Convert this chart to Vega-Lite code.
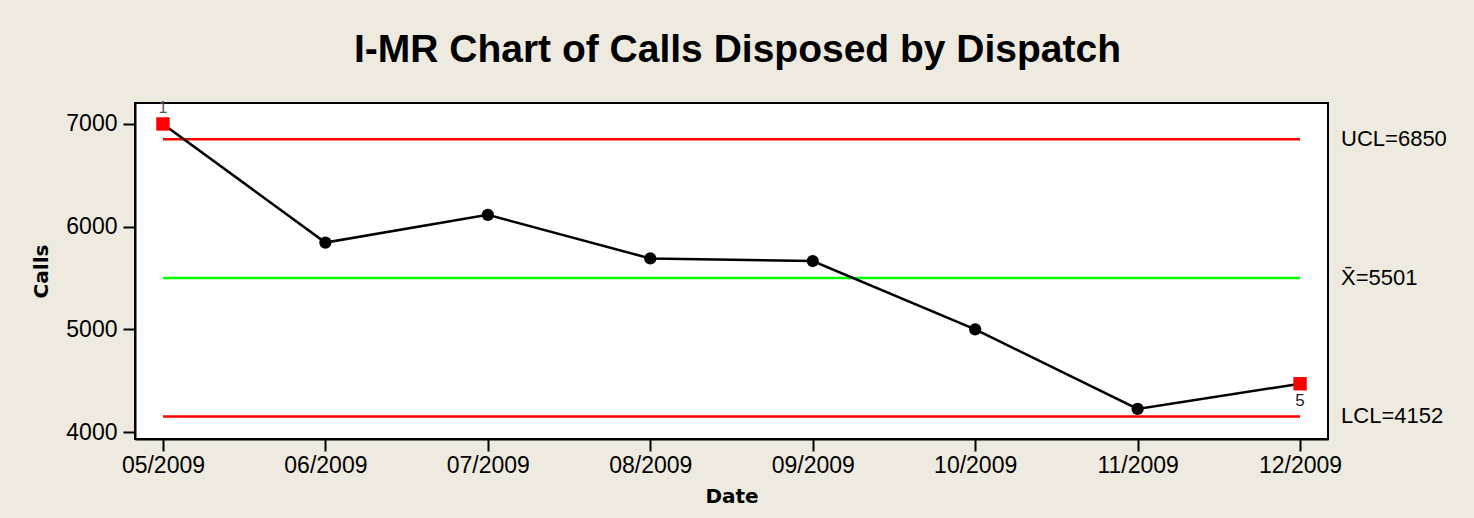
{
  "$schema": "https://vega.github.io/schema/vega-lite/v6.json",
  "width": 1193,
  "height": 336,
  "autosize": {"type": "none"},
  "padding": {"left": 135, "top": 103, "right": 146, "bottom": 79},
  "background": "#EEEAE0",
  "config": {
    "view": {"stroke": "#000000", "strokeWidth": 2, "fill": "#FFFFFF"},
    "font": "Liberation Sans"
  },
  "title": {
    "text": "I-MR Chart of Calls Disposed by Dispatch",
    "font": "Liberation Sans",
    "fontSize": 39,
    "fontWeight": "bold",
    "color": "#000000",
    "anchor": "middle",
    "dx": 6,
    "offset": 30
  },
  "datasets": {
    "obs": [
      {"month": "05/2009", "calls": 7000, "status": "out", "flag": "1"},
      {"month": "06/2009", "calls": 5845, "status": "in", "flag": ""},
      {"month": "07/2009", "calls": 6115, "status": "in", "flag": ""},
      {"month": "08/2009", "calls": 5690, "status": "in", "flag": ""},
      {"month": "09/2009", "calls": 5665, "status": "in", "flag": ""},
      {"month": "10/2009", "calls": 5000, "status": "in", "flag": ""},
      {"month": "11/2009", "calls": 4225, "status": "in", "flag": ""},
      {"month": "12/2009", "calls": 4470, "status": "out", "flag": "5"}
    ],
    "limits": [
      {"name": "UCL", "value": 6850, "start": "05/2009", "end": "12/2009", "label": "UCL=6850"},
      {"name": "Mean", "value": 5501, "start": "05/2009", "end": "12/2009", "label": "X̄=5501"},
      {"name": "LCL", "value": 4152, "start": "05/2009", "end": "12/2009", "label": "LCL=4152"}
    ]
  },
  "layer": [
    {
      "data": {"name": "limits"},
      "mark": {"type": "rule", "strokeWidth": 2.5},
      "encoding": {
        "x": {"field": "start", "type": "ordinal"},
        "x2": {"field": "end"},
        "y": {"field": "value", "type": "quantitative"},
        "color": {"field": "name", "type": "nominal", "scale": {"domain": ["UCL", "Mean", "LCL"], "range": ["#FF0000", "#00FF00", "#FF0000"]}, "legend": null}
      }
    },
    {
      "data": {"name": "limits"},
      "mark": {"type": "text", "align": "left", "baseline": "middle", "dx": 41, "fontSize": 22, "font": "Liberation Sans", "color": "#000000"},
      "encoding": {
        "x": {"field": "end", "type": "ordinal"},
        "y": {"field": "value", "type": "quantitative"},
        "text": {"field": "label"}
      }
    },
    {
      "data": {"name": "obs"},
      "mark": {"type": "line", "color": "#000000", "strokeWidth": 2.5},
      "encoding": {
        "x": {"field": "month", "type": "ordinal"},
        "y": {"field": "calls", "type": "quantitative"}
      }
    },
    {
      "data": {"name": "obs"},
      "mark": {"type": "point", "filled": true, "opacity": 1},
      "encoding": {
        "x": {"field": "month", "type": "ordinal"},
        "y": {"field": "calls", "type": "quantitative"},
        "shape": {"field": "status", "type": "nominal", "scale": {"domain": ["in", "out"], "range": ["circle", "square"]}, "legend": null},
        "fill": {"field": "status", "type": "nominal", "scale": {"domain": ["in", "out"], "range": ["#000000", "#FF0000"]}, "legend": null},
        "size": {"field": "status", "type": "nominal", "scale": {"domain": ["in", "out"], "range": [150, 180]}, "legend": null}
      }
    },
    {
      "data": {"name": "obs"},
      "transform": [{"filter": "datum.flag == '1'"}],
      "mark": {"type": "text", "align": "center", "baseline": "bottom", "dy": -8, "fontSize": 16, "color": "#555555"},
      "encoding": {
        "x": {"field": "month", "type": "ordinal"},
        "y": {"field": "calls", "type": "quantitative"},
        "text": {"field": "flag"}
      }
    },
    {
      "data": {"name": "obs"},
      "transform": [{"filter": "datum.flag == '5'"}],
      "mark": {"type": "text", "align": "center", "baseline": "top", "dy": 9, "fontSize": 17, "color": "#222222"},
      "encoding": {
        "x": {"field": "month", "type": "ordinal"},
        "y": {"field": "calls", "type": "quantitative"},
        "text": {"field": "flag"}
      }
    }
  ],
  "resolve": {"scale": {"color": "independent"}},
  "encoding": {
    "x": {
      "field": "month",
      "type": "ordinal",
      "scale": {"type": "point", "padding": 0.172, "domain": ["05/2009", "06/2009", "07/2009", "08/2009", "09/2009", "10/2009", "11/2009", "12/2009"]},
      "axis": {
        "title": "Date",
        "titleFont": "DejaVu Sans",
        "titleFontSize": 20,
        "titleFontWeight": "bold",
        "titleColor": "#000000",
        "titlePadding": 9,
        "labelFont": "Liberation Sans",
        "labelFontSize": 23,
        "labelColor": "#000000",
        "labelAngle": 0,
        "labelPadding": 3,
        "tickSize": 12,
        "tickWidth": 2,
        "tickColor": "#000000",
        "domainColor": "#000000",
        "domainWidth": 2,
        "grid": false
      }
    },
    "y": {
      "type": "quantitative",
      "scale": {"domain": [3932, 7204], "nice": false, "zero": false},
      "axis": {
        "title": "Calls",
        "titleFont": "DejaVu Sans",
        "titleFontSize": 20,
        "titleFontWeight": "bold",
        "titleColor": "#000000",
        "titlePadding": 14,
        "values": [4000, 5000, 6000, 7000],
        "format": "d",
        "labelFont": "Liberation Sans",
        "labelFontSize": 23,
        "labelColor": "#000000",
        "labelPadding": 6,
        "tickSize": 12,
        "tickWidth": 2,
        "tickColor": "#000000",
        "domainColor": "#000000",
        "domainWidth": 2,
        "grid": false
      }
    }
  }
}
